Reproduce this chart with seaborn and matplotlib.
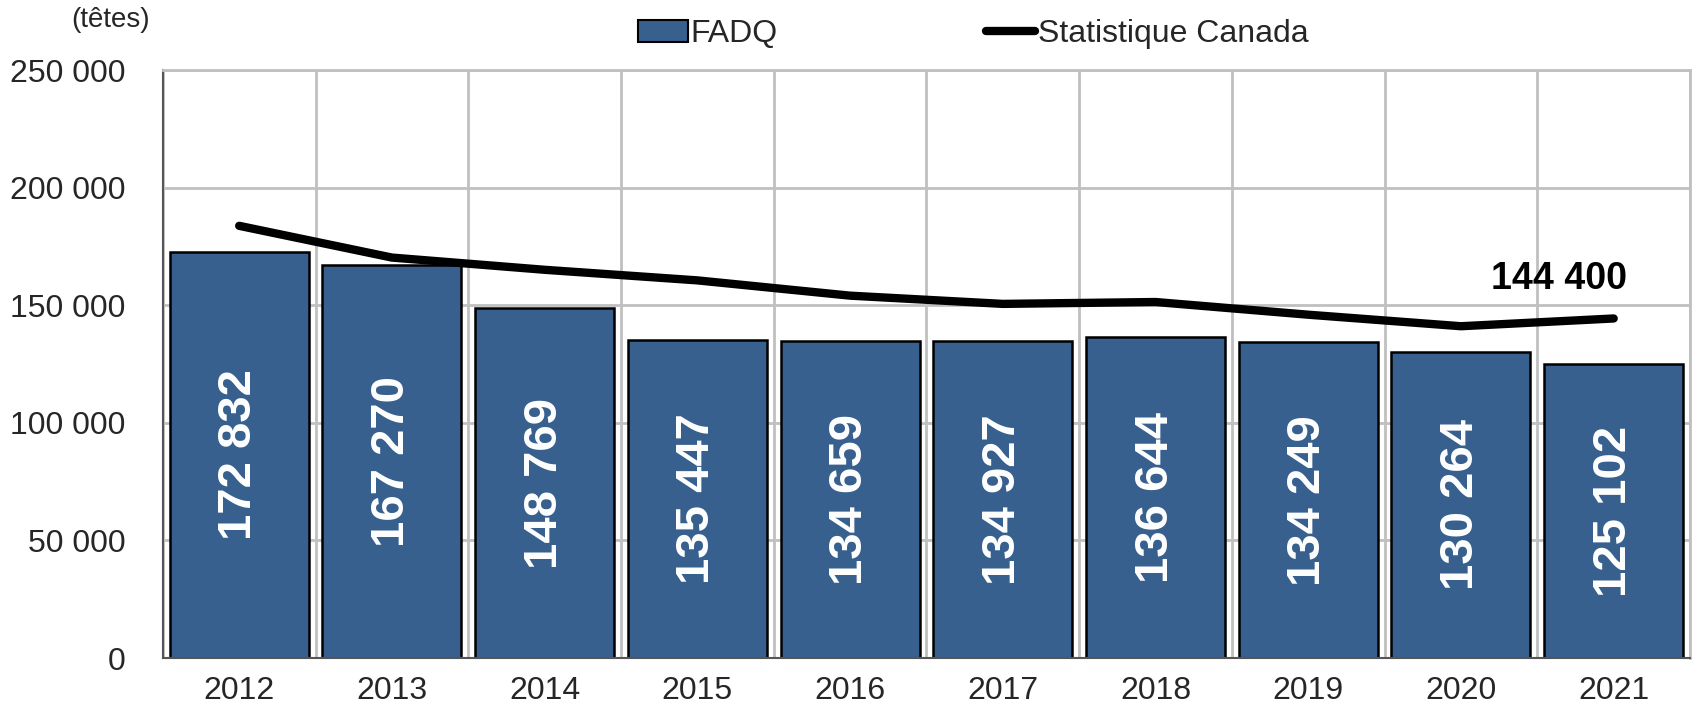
import matplotlib
matplotlib.use('Agg')
import matplotlib.pyplot as plt
import matplotlib.ticker as mticker
from matplotlib.patches import Patch
from matplotlib.lines import Line2D
import seaborn as sns
import pandas as pd
import numpy as np

# data
years = ['2012', '2013', '2014', '2015', '2016', '2017', '2018', '2019', '2020', '2021']
fadq = [172832, 167270, 148769, 135447, 134659, 134927, 136644, 134249, 130264, 125102]
statcan = [183800, 170300, 165100, 160600, 154100, 150600, 151400, 146000, 141100, 144400]

BAR_COLOR = '#37608f'
GRID_COLOR = '#c0c0c0'

sns.set_style('white')
plt.rcParams['font.family'] = ['Liberation Sans', 'DejaVu Sans']


def fmt_space(v, pos=None):
    return f"{int(round(v)):,}".replace(',', ' ')


df = pd.DataFrame({'Année': years, 'FADQ': fadq, 'StatCan': statcan})

fig = plt.figure(figsize=(16.96, 7.10), dpi=100)
ax = fig.add_axes([0.096, 0.0732, 0.9005, 0.828])

sns.barplot(data=df, x='Année', y='FADQ', color=BAR_COLOR, width=0.91,
            edgecolor='black', linewidth=1.8, saturation=1, ax=ax, zorder=2)

xs = np.arange(len(years))
sns.lineplot(x=xs, y=df['StatCan'], color='black', linewidth=6, ax=ax,
             solid_capstyle='round', zorder=3)

# labels inside bars
for i, v in enumerate(fadq):
    ax.text(i, v / 2, fmt_space(v), rotation=90, ha='center', va='center',
            color='white', fontsize=34, fontweight='bold', zorder=4)

# last value of the line
ax.text(9 - 0.36, 161000, fmt_space(statcan[-1]), ha='center', va='center',
        fontsize=27, fontweight='bold', color='black', zorder=4)

ax.set_xlim(-0.5, 9.5)
ax.set_ylim(0, 250000)
ax.yaxis.set_major_locator(mticker.MultipleLocator(50000))
ax.yaxis.set_major_formatter(mticker.FuncFormatter(fmt_space))
ax.set_xticks(np.arange(-0.5, 10, 1), minor=True)

ax.grid(False)
ax.set_axisbelow(True)
ax.yaxis.grid(True, color=GRID_COLOR, linewidth=2)
ax.xaxis.grid(True, which='minor', color=GRID_COLOR, linewidth=2)

ax.tick_params(axis='x', which='major', length=0, labelsize=23, pad=13)
ax.tick_params(axis='x', which='minor', length=9, width=1.2, color='#444444', direction='out')
ax.tick_params(axis='y', length=12, width=1.2, color='#444444', direction='inout',
               labelsize=23, pad=21)
ax.set_xlabel('')
ax.set_ylabel('')

for side in ['top', 'right']:
    ax.spines[side].set_color(GRID_COLOR)
    ax.spines[side].set_linewidth(2)
for side in ['left', 'bottom']:
    ax.spines[side].set_color('#555555')
    ax.spines[side].set_linewidth(1.5)

handles = [Patch(facecolor=BAR_COLOR, edgecolor='black', linewidth=1.5),
           Line2D([0], [0], color='black', linewidth=6, solid_capstyle='round')]
fig.legend(handles, ['FADQ', 'Statistique Canada'], loc='center',
           bbox_to_anchor=(0.574, 0.952), ncol=2, frameon=False, fontsize=23,
           handlelength=1.55, handleheight=0.7, handletextpad=0.1, columnspacing=6.5)

fig.text(0.065, 0.972, '(têtes)', ha='center', va='center', fontsize=20)

fig.savefig('out.png', dpi=100)
